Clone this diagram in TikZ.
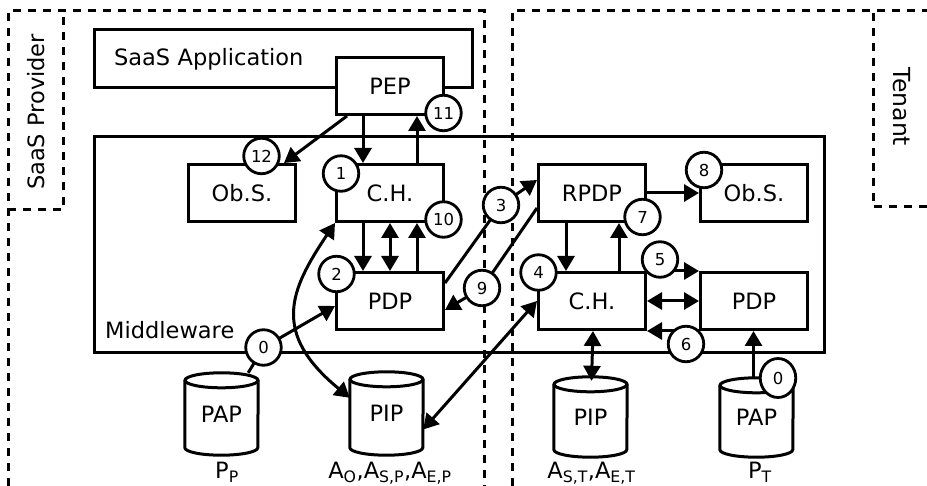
\documentclass[tikz,border=0pt]{standalone}
\usepackage{fontspec}
\setmainfont{DejaVu Sans}
\usetikzlibrary{arrows.meta,calc,shapes.geometric}
\pgfdeclarelayer{bg}
\pgfsetlayers{bg,main}
\tikzset{
  lwd/.style={line width=3pt},
  box/.style={draw, lwd, fill=white, minimum width=107pt, minimum height=57pt, inner sep=0pt, font=\fontsize{22.5}{27}\selectfont},
  num/.style={draw, circle, line width=2.8pt, fill=white, minimum size=35.5pt, inner sep=0pt, font=\fontsize{16.5}{19}\selectfont},
  arr/.style={lwd, -{Triangle[length=15pt,width=17pt]}},
  darr/.style={lwd, {Triangle[length=15pt,width=17pt]}-{Triangle[length=15pt,width=17pt]}},
  region/.style={lwd, dash pattern=on 8pt off 7pt},
  lbl/.style={inner sep=0pt, font=\fontsize{22.5}{27}\selectfont},
  cylnode/.style={minimum width=73pt, inner sep=0pt, font=\fontsize{22.5}{27}\selectfont},
}
\newcommand\drawcyl[1]{%
  \draw[lwd] ($(#1.north west)+(0,7.5)$) -- ($(#1.south west)+(0,-7.5)$)
     arc[start angle=180, end angle=0, x radius=36.5, y radius=7.5]
     -- ($(#1.north east)+(0,7.5)$);
  \draw[lwd] ($(#1.north)+(0,7.5)$) ellipse[x radius=36.5, y radius=7.5];}
\begin{document}
\begin{tikzpicture}[x=1pt,y=-1pt]
\useasboundingbox (0,0) rectangle (927,486);
% main boxes
\node[box, minimum width=378pt, minimum height=58pt, text width=338pt, inner xsep=20pt, align=left] (app) at (283,59) {SaaS Application};
\node[box] (pep) at (390,86) {PEP};
\node[draw, lwd, minimum width=730pt, minimum height=216pt] (mw) at (459,245) {};
\node[lbl, anchor=base west] (mwtext) at (105,339) {Middleware};
\node[box] (obsL) at (242,193) {Ob.S.};
\node[box] (chL) at (390,193) {C.H.};
\node[box] (pdpL) at (390,301) {PDP};
\node[box] (rpdp) at (592,193) {RPDP};
\node[box] (obsR) at (754,193) {Ob.S.};
\node[box] (chR) at (592,301) {C.H.};
\node[box] (pdpR) at (754,301) {PDP};
% cylinders (text)
\node[cylnode, minimum height=82pt] (papL) at (221.5,414) {PAP};
\node[cylnode, minimum height=83pt] (pipL) at (386.5,413.5) {PIP};
\node[cylnode, minimum height=80pt] (pipR) at (590.5,417) {PIP};
\node[cylnode, minimum height=79pt] (papR) at (756.5,417.5) {PAP};
% labels below
\node[lbl, anchor=base] (lPP) at (227,478) {P\textsubscript{P}};
\node[lbl, anchor=base] (lAP) at (390,478) {A\textsubscript{O},A\textsubscript{S,P},A\textsubscript{E,P}};
\node[lbl, anchor=base] (lAT) at (591.5,478) {A\textsubscript{S,T},A\textsubscript{E,T}};
\node[lbl, anchor=base] (lPT) at (760,478) {P\textsubscript{T}};
% region labels
\node[lbl, rotate=90] (sp) at (36,112) {SaaS Provider};
\node[inner sep=0pt, font=\fontsize{23.5}{28}\selectfont, rotate=-90] (tn) at (902,107) {Tenant};
% number circles
\node[num] (c11) at (443.5,113) {11};
\node[num] (c12) at (261.5,156) {12};
\node[num] (c1) at (341,173.5) {1};
\node[num] (c10) at (443.5,219.5) {10};
\node[num] (c2) at (336.5,274) {2};
\node[num] (c0L) at (263.5,347.5) {0};
\node[num] (c3) at (501,205) {3};
\node[num] (c9) at (482,288) {9};
\node[num] (c4) at (538.5,272.5) {4};
\node[num] (c7) at (642.5,217) {7};
\node[num] (c8) at (704,170) {8};
\node[num] (c5) at (660,259.5) {5};
\node[num] (c6) at (686,344) {6};
\node[num, ellipse, minimum width=35.5pt, minimum height=39pt] (c0R) at (778,378) {0};
\begin{pgfonlayer}{bg}
% dashed regions
\draw[region] (8,486) -- (8,11) -- (484,11) -- (484,486);
\draw[region] (8,210) -- (63,210) -- (63,11);
\draw[region] (512,486) -- (512,11) -- (927,11);
\draw[region] (927,207) -- (873,207) -- (873,11);
% cylinders
\drawcyl{papL}
\drawcyl{pipL}
\drawcyl{pipR}
\drawcyl{papR}
% connectors left
\draw[arr] ([xshift=-27pt]pep.south) -- ([xshift=-27pt]chL.north);
\draw[arr] ([xshift=27pt]chL.north) -- ([xshift=27pt]pep.south);
\draw[arr] ([xshift=12pt]pep.south west) -- ([xshift=-13pt]obsL.north east);
\draw[arr] ([xshift=-27pt]chL.south) -- ([xshift=-27pt]pdpL.north);
\draw[darr] (chL.south) -- (pdpL.north);
\draw[arr] ([xshift=27pt]pdpL.north) -- ([xshift=27pt]chL.south);
\draw[darr] (chL.south west) .. controls +(-45,67) and +(-79,-65) .. ([yshift=-26pt]pipL.north west);
\draw[arr] ([xshift=-10pt]papL.north east) -- (c0L.center) -- ([yshift=-5pt]pdpL.west);
\draw[arr] ([yshift=-12pt]pdpL.north east) -- (c3.center) -- ([yshift=13pt]rpdp.west);
\draw[arr] ([yshift=-15pt]rpdp.west) -- (c9.center) -- ([yshift=-9pt]pdpL.east);
\draw[darr] ([yshift=-16pt]pipL.east) -- (chR.west);
% connectors right
\draw[arr] ([xshift=-26pt]rpdp.south) -- ([xshift=-26pt]chR.north);
\draw[arr] ([xshift=27pt]chR.north) -- ([xshift=27pt]rpdp.south);
\draw[arr] (rpdp.east) -- (obsR.west);
\draw[arr] (chR.north east) -- (pdpR.north west);
\draw[darr] (chR.east) -- (pdpR.west);
\draw[arr] (pdpR.south west) -- (chR.south east);
\draw[darr] ([xshift=1pt]chR.south) -- ([xshift=1pt,yshift=-4pt]pipR.north);
\draw[arr] ([xshift=-3pt]papR.north) -- ([xshift=-3pt]papR.north |- pdpR.south);
\end{pgfonlayer}
\end{tikzpicture}
\end{document}
